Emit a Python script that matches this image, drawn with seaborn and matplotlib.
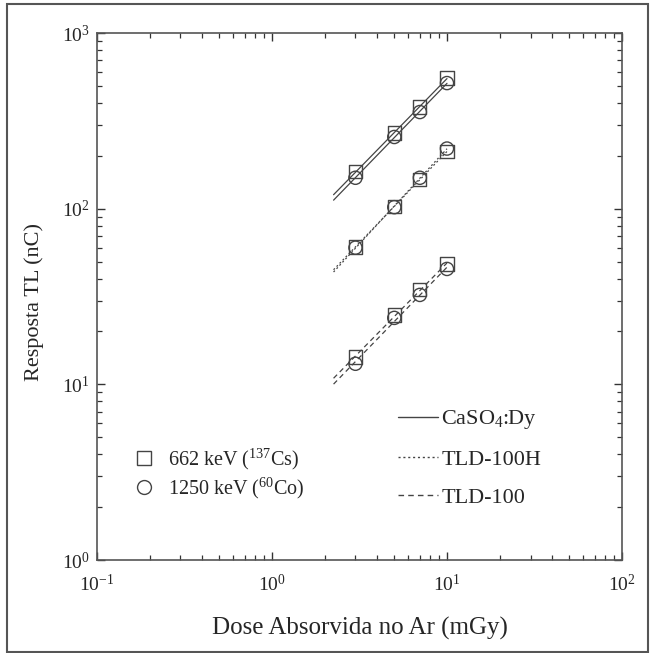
import numpy as np
import pandas as pd
import seaborn as sns
import matplotlib.pyplot as plt
from matplotlib.lines import Line2D
from matplotlib.patches import Rectangle

sns.set_style('ticks')
plt.rcParams['font.family'] = ['Liberation Serif', 'DejaVu Serif']
plt.rcParams['mathtext.fontset'] = 'custom'
plt.rcParams['mathtext.rm'] = 'Liberation Serif'
plt.rcParams['mathtext.it'] = 'Liberation Serif:italic'

# dose (mGy)
dose = [3, 5, 7, 10]
# resposta TL (nC)
caso4_cs = [162, 270, 379, 555]
caso4_co = [150, 256, 355, 519]
tld100h_cs = [60.5, 103, 147, 211]
tld100h_co = [60, 102, 150, 220]
tld100_cs = [14.3, 24.8, 34.5, 48.4]
tld100_co = [13.1, 23.9, 32.3, 45.4]

materials = ['CaSO$_4$:Dy', 'TLD-100H', 'TLD-100']
energies = ['662 keV ($^{137}$Cs)', '1250 keV ($^{60}$Co)']
styles = {'CaSO$_4$:Dy': '-', 'TLD-100H': (0, (1.5, 2)), 'TLD-100': (0, (4, 3))}

rows = []
for mat, cs, co in zip(materials, [caso4_cs, tld100h_cs, tld100_cs], [caso4_co, tld100h_co, tld100_co]):
    for d, a, b in zip(dose, cs, co):
        rows.append((mat, energies[0], d, a))
        rows.append((mat, energies[1], d, b))
df = pd.DataFrame(rows, columns=['material', 'energia', 'dose', 'resposta'])

fig = plt.figure(figsize=(6.5, 6.53), dpi=100)
ax = fig.add_axes([0.149, 0.1424, 0.808, 0.807])
fig.patches.append(Rectangle((0.011, 0.002), 0.986, 0.992, transform=fig.transFigure,
                             fill=False, edgecolor='#555555', linewidth=1.5))

col = '#444444'
xfit = np.logspace(np.log10(2.25), 1, 20)
for (mat, en), g in df.groupby(['material', 'energia']):
    p = np.polyfit(np.log10(g['dose']), np.log10(g['resposta']), 1)
    fit = pd.DataFrame({'x': xfit, 'y': 10 ** np.polyval(p, np.log10(xfit))})
    sns.lineplot(data=fit, x='x', y='y', ax=ax, color=col, lw=0.9,
                 linestyle=styles[mat], legend=False)

sns.scatterplot(data=df, x='dose', y='resposta', style='energia',
                markers={energies[0]: 's', energies[1]: 'o'}, s=90,
                facecolor='none', edgecolor=col, linewidth=1.0, ax=ax, legend=False)

ax.set_xscale('log')
ax.set_yscale('log')
ax.set_xlim(0.1, 100)
ax.set_ylim(1, 1000)
ax.set_xlabel('Dose Absorvida no Ar (mGy)', fontsize=18, labelpad=16)
ax.set_ylabel('Resposta TL (nC)', fontsize=16)
ax.yaxis.set_label_coords(-0.1, 0.49)
ax.tick_params(which='both', direction='in', top=True, right=True, labelsize=14, color='#333333')
ax.tick_params(which='major', length=6, width=1)
ax.tick_params(axis='x', which='major', pad=10)
ax.tick_params(axis='y', which='major', pad=5)
ax.tick_params(which='minor', length=3.5, width=0.9)
for s in ax.spines.values():
    s.set_color('#555555')
    s.set_linewidth(1.2)

h1 = [Line2D([], [], ls='none', marker='s', ms=10, mfc='none', mec=col, mew=1),
      Line2D([], [], ls='none', marker='o', ms=10, mfc='none', mec=col, mew=1)]
leg1 = ax.legend(h1, energies, loc='lower left', bbox_to_anchor=(0.04, 0.085),
                 frameon=False, fontsize=14.5, handlelength=1.2, handletextpad=0.6,
                 labelspacing=0.2, borderpad=0.2)
ax.add_artist(leg1)
h2 = [Line2D([], [], color=col, lw=1, ls=styles[m]) for m in materials]
ax.legend(h2, materials, loc='lower left', bbox_to_anchor=(0.5436, 0.069),
          frameon=False, fontsize=16, handlelength=1.8, handletextpad=0.15,
          labelspacing=0.8, borderpad=0.2)

fig.savefig('out.png', dpi=100)
